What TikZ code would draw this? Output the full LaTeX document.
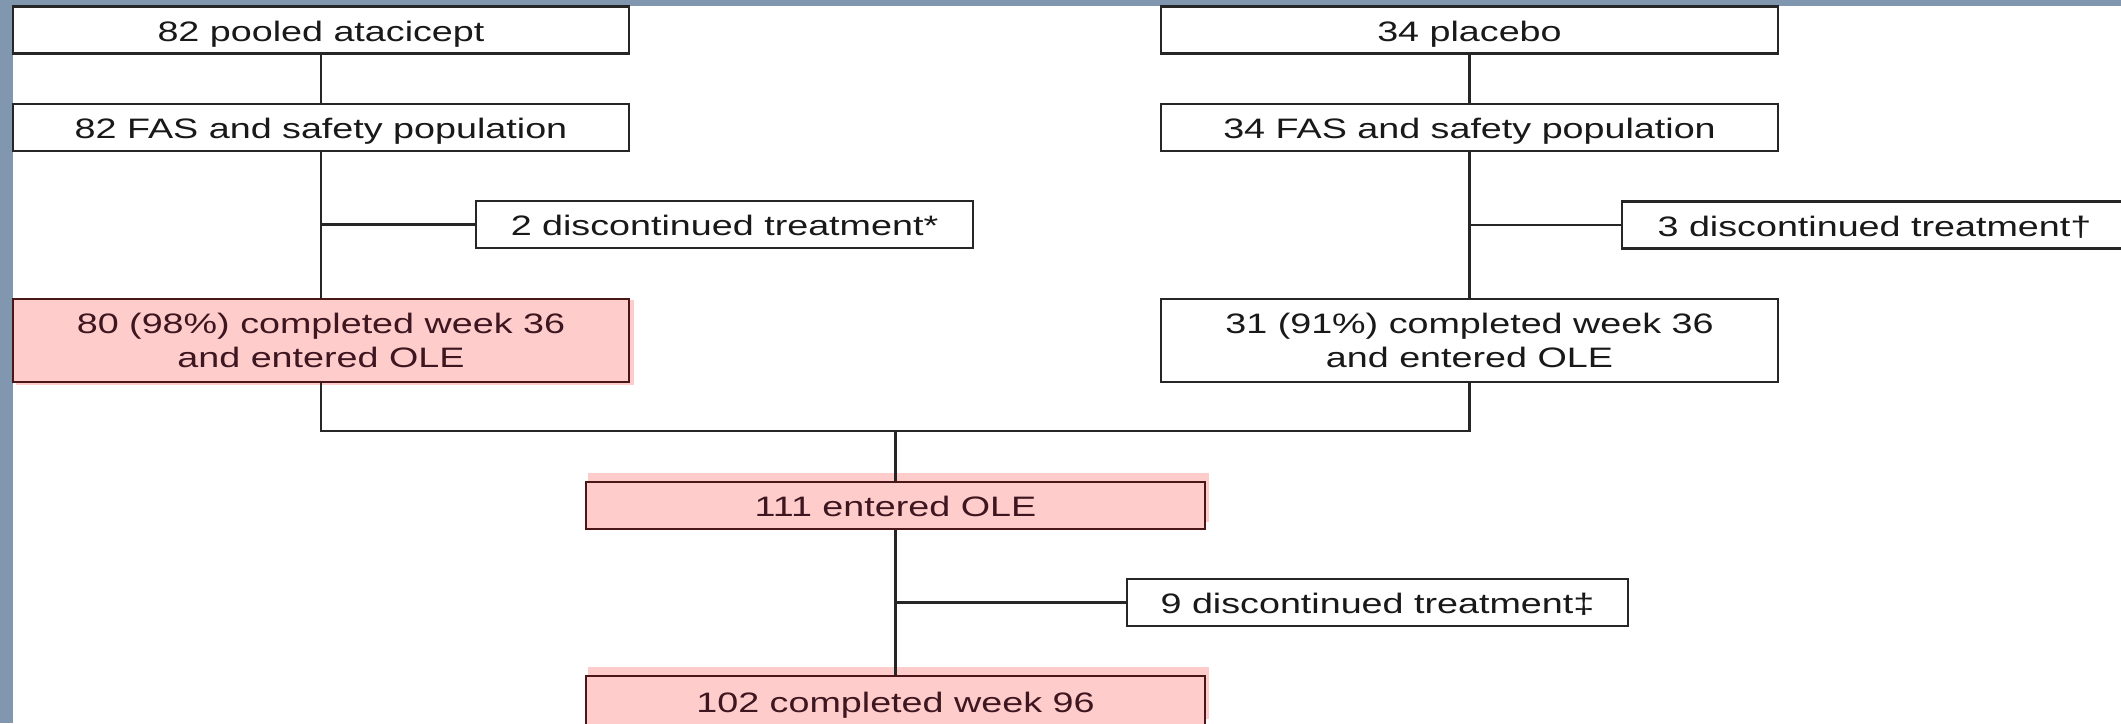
\documentclass[tikz,border=0pt]{standalone}
\usepackage{fontspec}
\setmainfont{Liberation Sans}[FakeStretch=1.34]
\usetikzlibrary{backgrounds}
\definecolor{framegrey}{RGB}{129,150,175}
\definecolor{olepink}{RGB}{255,204,204}
\definecolor{oledraw}{RGB}{75,22,24}
\definecolor{oletext}{RGB}{62,22,32}
\colorlet{linedark}{black!85}

\begin{document}
\begin{tikzpicture}[x=.01cm,y=-.01cm,every node/.style={font=\fontsize{8}{9.7}\selectfont}]
  \tikzset{
    flowbox/.style={draw=linedark,line width=.6pt,fill=white,text=black!90,minimum height=.47cm,inner sep=0pt,align=center},
    oneline/.style={text height=.73em,text depth=.09em},
    armbox/.style={flowbox,minimum width=6.16cm},
    dropbox/.style={flowbox,oneline,minimum width=5cm},
    olebox/.style={draw=oledraw,fill=olepink,text=oletext},
    link/.style={draw=linedark,line width=.6pt}
  }
  \useasboundingbox (0,0) rectangle (2121,723);

  % arms
  \node[armbox,oneline] (atac) at (321,30) {82 pooled atacicept};
  \node[armbox,oneline] (plac) at (1469.5,30) {34 placebo};
  \node[armbox,oneline] (atacfas) at (321,127.5) {82 FAS and safety population};
  \node[armbox,oneline] (placfas) at (1469.5,127.5) {34 FAS and safety population};
  \node[dropbox,minimum width=4.97cm] (atacdrop) at (724.5,224.5) {2 discontinued treatment*};
  \node[dropbox,minimum width=5.05cm] (placdrop) at (1874.5,225) {3 discontinued treatment†};
  \node[armbox,olebox,minimum height=.83cm] (atacwk) at (321,340.5) {80 (98\%) completed week 36\\and entered OLE};
  \node[armbox,minimum height=.83cm] (placwk) at (1469.5,340.5) {31 (91\%) completed week 36\\and entered OLE};

  % open-label extension
  \coordinate (merge) at (895.5,431);
  \node[armbox,oneline,olebox,minimum width=6.19cm] (ole) at (895.5,505.5) {111 entered OLE};
  \node[dropbox,minimum width=5.01cm] (oledrop) at (1377.5,602.5) {9 discontinued treatment‡};
  \node[armbox,oneline,olebox,minimum width=6.19cm,minimum height=.5cm] (wk96) at (895.5,701) {102 completed week 96};

  \draw[link] (atac) -- (atacfas);
  \draw[link] (plac) -- (placfas);
  \draw[link] (atacfas) -- (atacwk);
  \draw[link] (placfas) -- (placwk);
  \draw[link] (atacfas |- atacdrop) -- (atacdrop);
  \draw[link] (placfas |- placdrop) -- (placdrop);
  \draw[link] (atacwk) |- (merge) -| (placwk);
  \draw[link] (merge) -- (ole);
  \draw[link] (ole) -- (wk96);
  \draw[link] (ole |- oledrop) -- (oledrop);

  \begin{scope}[on background layer]
    \fill[white] (0,0) rectangle (2121,723);
    \fill[framegrey] (0,0) rectangle (2121,6);
    \fill[framegrey] (0,0) rectangle (12.7,723);
    \fill[olepink] ([shift={(4,2)}]atacwk.north west) rectangle ([shift={(4,2)}]atacwk.south east);
    \fill[olepink] ([shift={(3,-8)}]ole.north west) rectangle ([shift={(3,-8)}]ole.south east);
    \fill[olepink] ([shift={(3,-8)}]wk96.north west) rectangle ([shift={(3,-8)}]wk96.south east);
  \end{scope}
\end{tikzpicture}
\end{document}
